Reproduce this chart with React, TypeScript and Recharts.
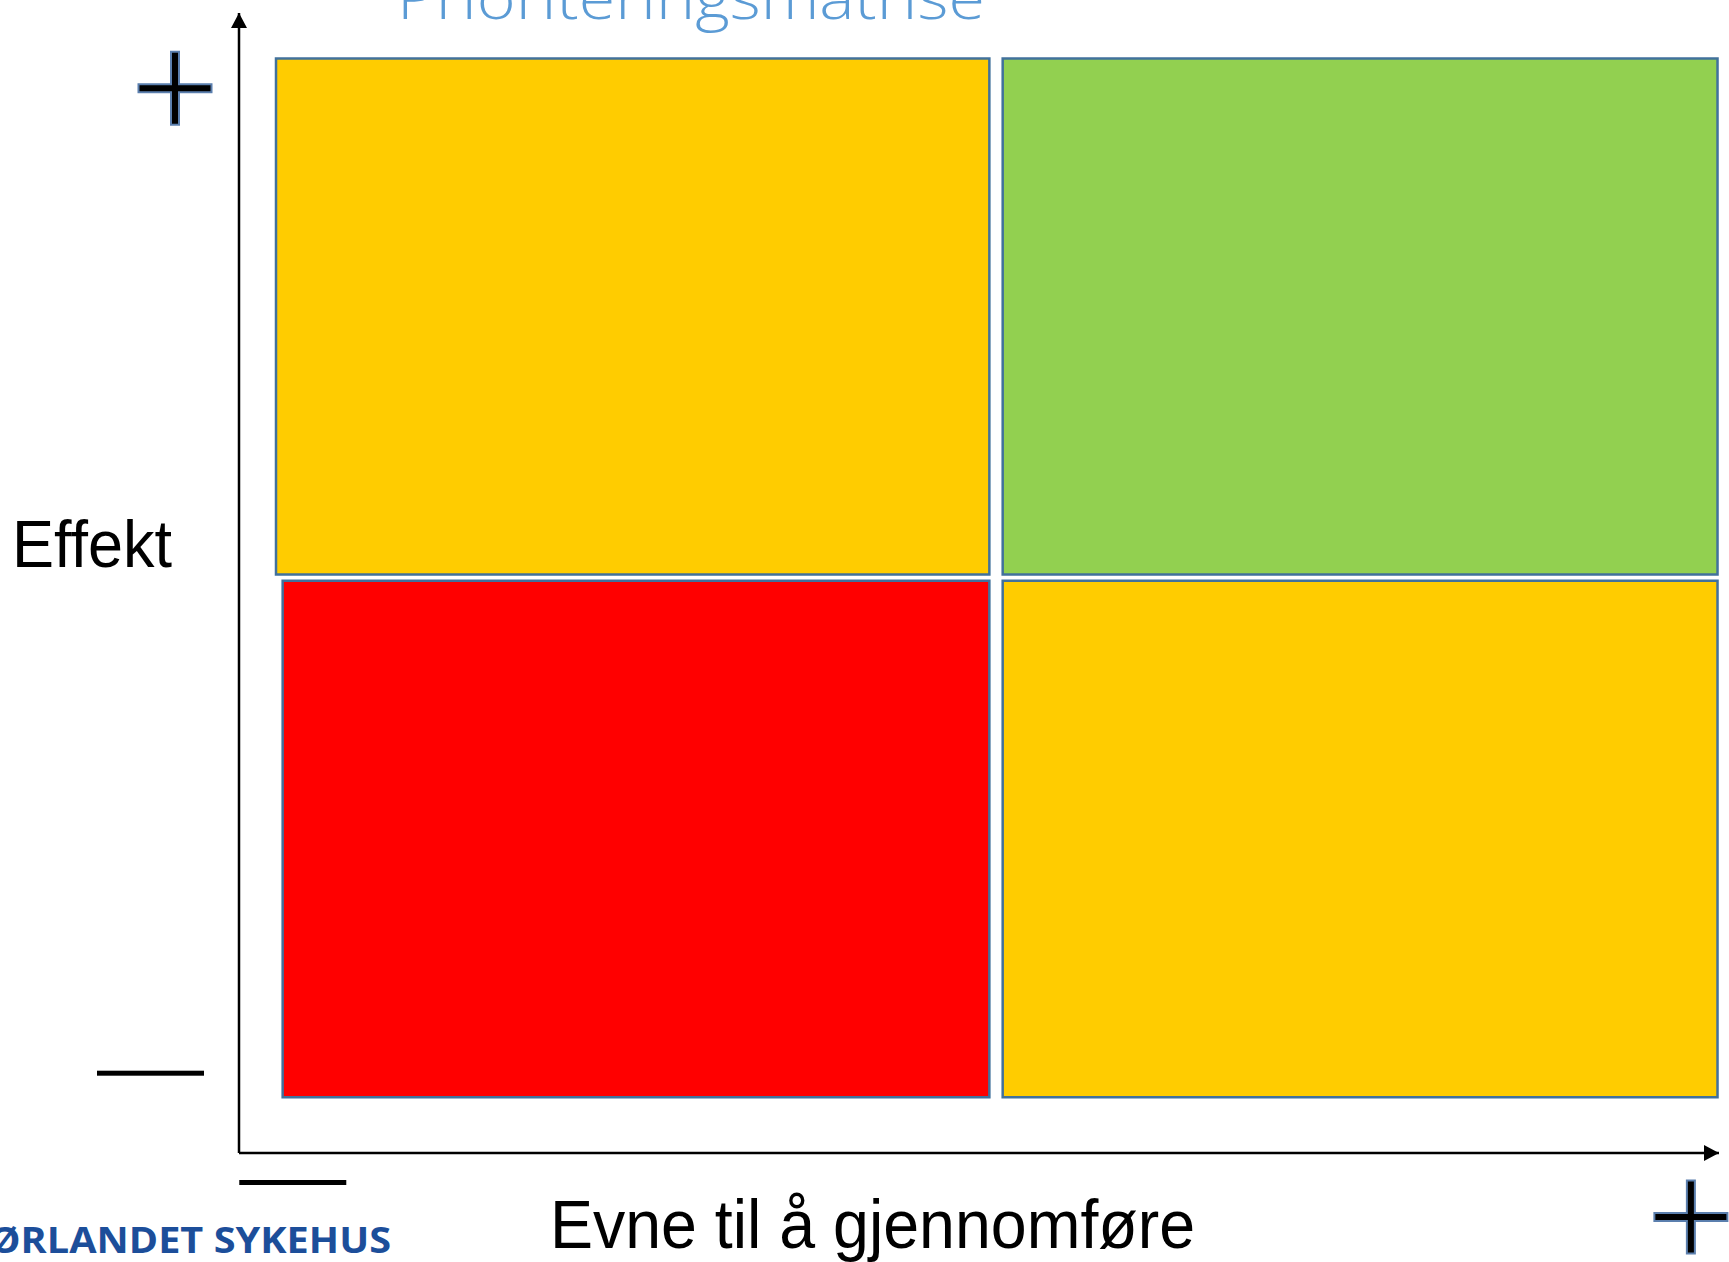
import { ComposedChart, XAxis, YAxis, ReferenceArea, Scatter } from "recharts";

const W = 1729;
const H = 1262;

// matrix cells, in axis units (0..100 on both axes)
const cellNames = ["lowAbilityHighEffect", "highAbilityHighEffect", "lowAbilityLowEffect", "highAbilityLowEffect"];
const cellX1 = [2.5, 51.6, 2.95, 51.6];
const cellX2 = [50.7, 99.9, 50.7, 99.9];
const cellY1 = [50.75, 50.75, 4.9, 4.9];
const cellY2 = [96.0, 96.0, 50.2, 50.2];

// axis end markers (low / high)
const xTicks = [3.6, 98.1];
const xTickLabels = ["−", "+"];
const yTicks = [7.0, 93.4];
const yTickLabels = ["−", "+"];

const title = "Prioriteringsmatrise";
const xLabel = "Evne til å gjennomføre";
const yLabel = "Effekt";
const logo = "ØRLANDET SYKEHUS";

const cellColors: Record<string, string> = {
  lowAbilityHighEffect: "#FFCC00",
  highAbilityHighEffect: "#92D050",
  lowAbilityLowEffect: "#FF0000",
  highAbilityLowEffect: "#FFCC00",
};

// cell centres, only so the chart has data for its axes
const cellData = cellNames.map((name, i) => ({
  name,
  x: (cellX1[i] + cellX2[i]) / 2,
  y: (cellY1[i] + cellY2[i]) / 2,
}));

function PlusSign({ cx, cy }: { cx: number; cy: number }) {
  const len = 71;
  const th = 6;
  return (
    <g>
      <rect x={cx - len / 2} y={cy - th / 2} width={len} height={th} fill="#000" stroke="#5B7FAE" strokeWidth={4} />
      <rect x={cx - th / 2} y={cy - len / 2} width={th} height={len} fill="#000" stroke="#5B7FAE" strokeWidth={4} />
      <rect x={cx - len / 2} y={cy - th / 2} width={len} height={th} fill="#000" />
      <rect x={cx - th / 2} y={cy - len / 2} width={th} height={len} fill="#000" />
    </g>
  );
}

const XTick = (props: any) => {
  const { x, y, payload } = props;
  const label = xTickLabels[xTicks.indexOf(payload.value)];
  if (label === "+") return <PlusSign cx={x} cy={y + 64} />;
  return <rect x={x - 53} y={y + 27} width={107} height={5} fill="#000" />;
};

const YTick = (props: any) => {
  const { x, y, payload } = props;
  const label = yTickLabels[yTicks.indexOf(payload.value)];
  if (label === "+") return <PlusSign cx={x - 64} cy={y} />;
  return <rect x={x - 142} y={y - 2.5} width={107} height={5} fill="#000" />;
};

export default function App() {
  return (
    <div style={{ position: "absolute", left: 0, top: 0, width: W, height: H, background: "#fff", overflow: "hidden" }}>
      <ComposedChart width={W} height={H} data={cellData} margin={{ top: 13, right: 10, bottom: 0, left: 0 }}>
        <defs>
          <marker
            id="arrowHead"
            viewBox="0 0 15 16"
            refX={15}
            refY={8}
            markerWidth={15}
            markerHeight={16}
            markerUnits="userSpaceOnUse"
            orient="auto-start-reverse"
          >
            <path d="M0,0 L15,8 L0,16 z" fill="#000" />
          </marker>
        </defs>
        <XAxis
          type="number"
          dataKey="x"
          domain={[0, 100]}
          ticks={xTicks}
          interval={0}
          height={109}
          tickSize={0}
          tickMargin={0}
          tickLine={false}
          tick={(p: any) => <XTick {...p} />}
          axisLine={{ stroke: "#000", strokeWidth: 2.5, markerEnd: "url(#arrowHead)" }}
        />
        <YAxis
          type="number"
          dataKey="y"
          domain={[0, 100]}
          ticks={yTicks}
          interval={0}
          width={239}
          tickSize={0}
          tickMargin={0}
          tickLine={false}
          tick={(p: any) => <YTick {...p} />}
          axisLine={{ stroke: "#000", strokeWidth: 2.5, markerStart: "url(#arrowHead)" }}
        />
        {cellNames.map((name, i) => (
          <ReferenceArea
            key={name}
            x1={cellX1[i]}
            x2={cellX2[i]}
            y1={cellY1[i]}
            y2={cellY2[i]}
            fill={cellColors[name]}
            fillOpacity={1}
            stroke="#41719C"
            strokeWidth={2.5}
            ifOverflow="visible"
          />
        ))}
        <Scatter dataKey="y" isAnimationActive={false} shape={() => <g />} legendType="none" />
        <text
          x={397}
          y={18.5}
          fontSize={58}
          fontFamily="'Open Sans', sans-serif"
          fontWeight={300}
          fill="#5B9BD5"
          textLength={588}
          lengthAdjust="spacingAndGlyphs"
        >
          {title}
        </text>
        <text
          x={12}
          y={567}
          fontSize={67}
          fontFamily="'Liberation Sans', Arial, sans-serif"
          fill="#000"
          textLength={160}
          lengthAdjust="spacingAndGlyphs"
        >
          {yLabel}
        </text>
        <text
          x={550}
          y={1248}
          fontSize={69}
          fontFamily="'Liberation Sans', Arial, sans-serif"
          fill="#000"
          textLength={645}
          lengthAdjust="spacingAndGlyphs"
        >
          {xLabel}
        </text>
        <text
          x={-11}
          y={1253}
          fontSize={36}
          fontFamily="'Open Sans', sans-serif"
          fontWeight={700}
          fill="#1C4E9A"
          textLength={402}
          lengthAdjust="spacingAndGlyphs"
        >
          {logo}
        </text>
      </ComposedChart>
    </div>
  );
}
